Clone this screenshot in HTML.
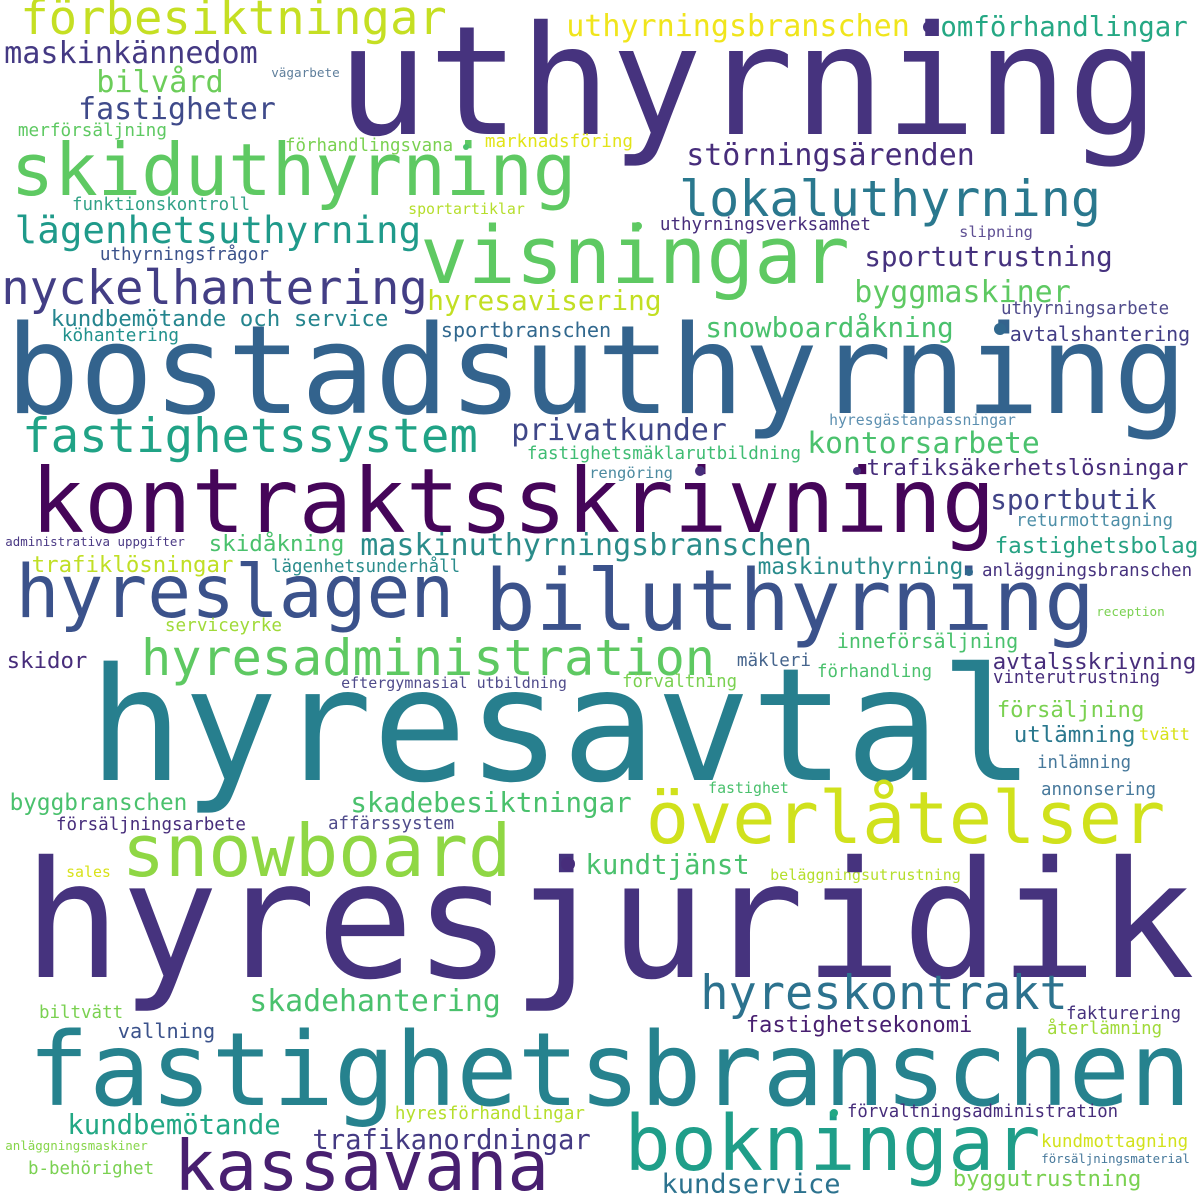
<!DOCTYPE html>
<html>
<head>
<meta charset="utf-8">
<style>
  html, body { margin: 0; padding: 0; background: #ffffff; }
  #cloud { display: block; width: 1200px; height: 1200px; }
  text { font-family: "DejaVu Sans Mono", "Liberation Mono", monospace; }
</style>
</head>
<body>
<svg id="cloud" xmlns="http://www.w3.org/2000/svg" width="1200" height="1200" viewBox="0 0 1200 1200">
  <rect x="0" y="0" width="1200" height="1200" fill="#ffffff"/>
  <g id="words"></g>
  <g id="dots"></g>
</svg>
<script>
// word, left x, right x, baseline y, colour
const words = [
  ["uthyrning", 346, 1150, 134, "#46337e"],
  ["förbesiktningar", 23, 444, 34, "#c5df23"],
  ["uthyrningsbranschen", 568, 908, 36, "#f0e51c"],
  ["omförhandlingar", 942, 1186, 36, "#25a884"],
  ["maskinkännedom", 6, 256, 63, "#443983"],
  ["vägarbete", 272, 339, 77, "#5f7f9c"],
  ["bilvård", 98, 222, 92, "#6ccd5a"],
  ["fastigheter", 80, 274, 119, "#3f4a8a"],
  ["merförsäljning", 19, 166, 136, "#5ec962"],
  ["förhandlingsvana", 286, 452, 151, "#7ad151"],
  ["marknadsföring", 486, 632, 147, "#e2e418"],
  ["störningsärenden", 688, 973, 165, "#472d7b"],
  ["skiduthyrning", 15, 572, 195, "#5ec962"],
  ["funktionskontroll", 73, 249, 210, "#32a287"],
  ["sportartiklar", 409, 524, 214, "#b5de2b"],
  ["lokaluthyrning", 682, 1098, 216, "#2a788e"],
  ["uthyrningsverksamhet", 661, 870, 230, "#472d7b"],
  ["slipning", 960, 1032, 237, "#5e4f93"],
  ["lägenhetsuthyrning", 17, 419, 243, "#1f9a8a"],
  ["uthyrningsfrågor", 101, 268, 260, "#3b528b"],
  ["sportutrustning", 866, 1111, 266, "#46327e"],
  ["visningar", 425, 845, 283, "#5ec962"],
  ["byggmaskiner", 856, 1069, 302, "#5ec962"],
  ["nyckelhantering", 4, 425, 304, "#433e85"],
  ["hyresavisering", 429, 660, 310, "#c2df23"],
  ["uthyrningsarbete", 1002, 1168, 314, "#4f4b8b"],
  ["kundbemötande och service", 52, 387, 326, "#25858e"],
  ["snowboardåkning", 707, 952, 337, "#4ac16d"],
  ["sportbranschen", 442, 610, 337, "#31688e"],
  ["köhantering", 63, 178, 341, "#21918c"],
  ["avtalshantering", 1011, 1189, 341, "#433e85"],
  ["bostadsuthyrning", 13, 1180, 413, "#33638d"],
  ["hyresgästanpassningar", 830, 1015, 425, "#5c8fb0"],
  ["privatkunder", 513, 725, 440, "#3f4788"],
  ["fastighetssystem", 25, 475, 452, "#20a386"],
  ["kontorsarbete", 809, 1038, 453, "#4ac16d"],
  ["fastighetsmäklarutbildning", 528, 800, 459, "#3fbc73"],
  ["trafiksäkerhetslösningar", 868, 1187, 475, "#472d7b"],
  ["rengöring", 590, 672, 478, "#4c8aa0"],
  ["sportbutik", 992, 1155, 509, "#414487"],
  ["returmottagning", 1017, 1172, 526, "#4e8fa8"],
  ["kontraktsskrivning", 36, 990, 532, "#450559"],
  ["administrativa uppgifter", 6, 184, 546, "#4b3a85"],
  ["skidåkning", 210, 343, 551, "#4ac16d"],
  ["fastighetsbolag", 996, 1197, 553, "#26a283"],
  ["maskinuthyrningsbranschen", 362, 810, 555, "#2a8c8a"],
  ["trafiklösningar", 33, 232, 572, "#c0df25"],
  ["lägenhetsunderhåll", 272, 459, 572, "#2b8c8c"],
  ["maskinuthyrning", 759, 962, 574, "#2a8c8c"],
  ["anläggningsbranschen", 983, 1191, 576, "#46327e"],
  ["hyreslagen", 20, 450, 617, "#3b528b"],
  ["biluthyrning", 490, 1090, 630, "#3b528b"],
  ["reception", 1097, 1164, 616, "#7ad151"],
  ["serviceyrke", 166, 281, 631, "#a0da39"],
  ["inneförsäljning", 838, 1017, 648, "#4ac16d"],
  ["mäkleri", 738, 810, 666, "#46658d"],
  ["skidor", 8, 86, 668, "#472d7b"],
  ["avtalsskrivning", 994, 1195, 669, "#472d7b"],
  ["hyresadministration", 144, 712, 675, "#5ec962"],
  ["förhandling", 818, 931, 677, "#4ac16d"],
  ["vinterutrustning", 994, 1159, 683, "#472d7b"],
  ["förvaltning", 623, 736, 687, "#7ad151"],
  ["eftergymnasial utbildning", 342, 566, 688, "#4f4b8b"],
  ["försäljning", 998, 1143, 717, "#7ad151"],
  ["tvätt", 1140, 1189, 740, "#d8e219"],
  ["utlämning", 1015, 1134, 742, "#2a788e"],
  ["inlämning", 1038, 1130, 768, "#46789b"],
  ["hyresavtal", 98, 1025, 780, "#277f8e"],
  ["fastighet", 709, 788, 793, "#4ac16d"],
  ["annonsering", 1042, 1155, 795, "#46789b"],
  ["byggbranschen", 11, 186, 810, "#4ac16d"],
  ["skadebesiktningar", 352, 630, 812, "#4ac16d"],
  ["affärssystem", 329, 453, 829, "#4f4b8b"],
  ["försäljningsarbete", 57, 245, 830, "#472d7b"],
  ["överlåtelser", 650, 1161, 843, "#d0e11c"],
  ["kundtjänst", 587, 748, 874, "#4ac16d"],
  ["snowboard", 126, 507, 876, "#8fd744"],
  ["sales", 67, 110, 877, "#d8e219"],
  ["beläggningsutrustning", 771, 960, 880, "#b5de2b"],
  ["hyresjuridik", 33, 1185, 977, "#46337e"],
  ["hyreskontrakt", 703, 1065, 1009, "#2c728e"],
  ["skadehantering", 251, 499, 1011, "#4ac16d"],
  ["biltvätt", 40, 122, 1018, "#7ad151"],
  ["fakturering", 1067, 1180, 1019, "#46327e"],
  ["fastighetsekonomi", 747, 971, 1032, "#481f70"],
  ["återlämning", 1048, 1161, 1034, "#a0da39"],
  ["vallning", 119, 214, 1038, "#3b528b"],
  ["fastighetsbranschen", 34, 1185, 1105, "#26828e"],
  ["förvaltningsadministration", 848, 1117, 1117, "#472d7b"],
  ["hyresförhandlingar", 396, 584, 1119, "#b5de2b"],
  ["kundbemötande", 69, 279, 1134, "#22a884"],
  ["kundmottagning", 1042, 1187, 1147, "#d2e21b"],
  ["trafikanordningar", 314, 589, 1149, "#443a83"],
  ["anläggningsmaskiner", 6, 147, 1150, "#86d549"],
  ["försäljningsmaterial", 1042, 1189, 1163, "#46789b"],
  ["bokningar", 629, 1036, 1170, "#1f9e89"],
  ["b-behörighet", 29, 153, 1174, "#7ad151"],
  ["byggutrustning", 954, 1140, 1186, "#7ad151"],
  ["kassavana", 178, 545, 1190, "#481f70"],
  ["kundservice", 663, 839, 1193, "#2c728e"]
];
// stray dots: x, y, r, colour
const dots = [
  [929, 27, 6, "#46337e"],
  [466, 147, 3, "#4ac16d"],
  [638, 226, 4, "#5ec962"],
  [1000, 329, 6, "#31688e"],
  [700, 471, 5, "#472d7b"],
  [857, 471, 4, "#472d7b"],
  [969, 572, 4, "#31688e"],
  [568, 864, 7, "#472d7b"],
  [834, 1113, 4, "#22a884"]
];

const NS = "http://www.w3.org/2000/svg";
const wg = document.getElementById("words");
const dg = document.getElementById("dots");

function slug(s) {
  return s.toLowerCase().replace(/å|ä/g, "a").replace(/ö/g, "o").replace(/[^a-z0-9]+/g, "-");
}

words.forEach(function (w) {
  const txt = w[0], x1 = w[1], x2 = w[2], by = w[3], col = w[4];
  const n = txt.length;
  const ink = x2 - x1;
  const fs = ink / (0.602 * n - 0.12);
  const adv = 0.602 * fs * n;
  const startX = x1 - 0.06 * fs;
  const t = document.createElementNS(NS, "text");
  t.setAttribute("x", startX.toFixed(1));
  t.setAttribute("y", by);
  t.setAttribute("font-size", fs.toFixed(2));
  t.setAttribute("fill", col);
  t.setAttribute("textLength", adv.toFixed(1));
  t.setAttribute("lengthAdjust", "spacingAndGlyphs");
  
  
  t.textContent = txt;
  wg.appendChild(t);
});

dots.forEach(function (d, i) {
  const c = document.createElementNS(NS, "circle");
  c.setAttribute("cx", d[0]);
  c.setAttribute("cy", d[1]);
  c.setAttribute("r", d[2]);
  c.setAttribute("fill", d[3]);
  
  
  dg.appendChild(c);
});
</script>
</body>
</html>
